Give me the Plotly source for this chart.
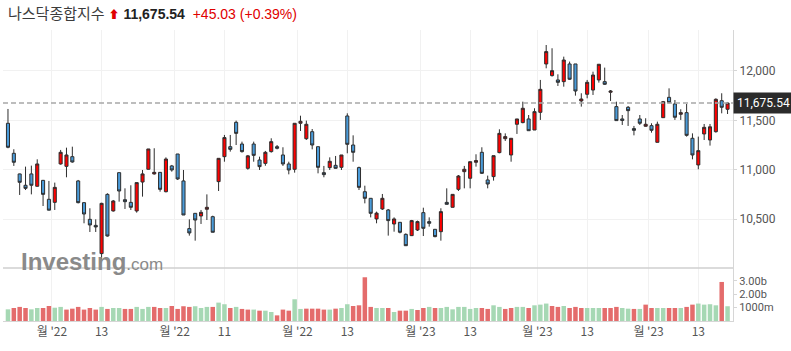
import plotly.graph_objects as go

# ---------------- data ----------------
opens = [11470, 11166, 10957, 10842, 10957, 10832, 10892, 10700, 10669, 11058,
         11034, 11132, 10886, 10666, 10497, 10436, 10150, 10750, 10582, 10970,
         10696, 10669, 10582, 10875, 11004, 10957, 10973, 10777, 11038, 11159,
         10886, 10403, 10558, 10531, 10599, 10524, 10879, 11132, 11233, 11480,
         11260, 11014, 11260, 11098, 11064, 11183, 11233, 11149, 11058, 11004,
         11470, 11314, 11385, 11233, 10970, 11021, 11044, 11024, 11544, 11250,
         11021, 10777, 10710, 10501, 10602, 10592, 10450, 10467, 10345, 10332,
         10389, 10565, 10474, 10396, 10372, 10669, 10619, 10801, 10980, 10913,
         11075, 11176, 10896, 10930, 11173, 11314, 11149, 11460, 11477, 11514,
         11402, 11581, 12071, 11953, 11909, 11892, 12071, 12071, 11696, 11764,
         11807, 11909, 11892, 11784, 11639, 11514, 11632, 11416, 11514, 11440,
         11446, 11277, 11527, 11733, 11666, 11561, 11578, 11318, 11048, 11362,
         11301, 11385, 11699, 11612]
highs = [11615, 11207, 10960, 11031, 11041, 11105, 10896, 10886, 10869, 11200,
         11223, 11233, 10896, 10670, 10609, 10497, 10665, 10761, 10693, 10970,
         10811, 10842, 10869, 10997, 11210, 11217, 10976, 11125, 11048, 11159,
         10997, 10497, 10560, 10592, 10750, 10534, 11115, 11352, 11352, 11497,
         11284, 11149, 11284, 11132, 11190, 11318, 11250, 11227, 11081, 11470,
         11547, 11497, 11412, 11233, 11038, 11125, 11139, 11149, 11571, 11348,
         11031, 10838, 10712, 10575, 10754, 10602, 10517, 10470, 10355, 10491,
         10484, 10615, 10517, 10398, 10609, 10811, 10750, 10946, 11038, 11081,
         11156, 11227, 10940, 11142, 11409, 11368, 11318, 11514, 11689, 11554,
         11622, 11909, 12263, 12230, 11966, 12145, 12095, 12071, 11774, 11909,
         11993, 12068, 12034, 11807, 11689, 11554, 11645, 11443, 11554, 11521,
         11470, 11487, 11696, 11824, 11706, 11612, 11666, 11368, 11335, 11463,
         11463, 11723, 11774, 11686]
lows = [11217, 11038, 10744, 10794, 10750, 10828, 10632, 10588, 10592, 11051,
        10923, 11071, 10659, 10457, 10369, 10369, 10075, 10322, 10575, 10676,
        10602, 10592, 10565, 10727, 11000, 10950, 10777, 10770, 10980, 10896,
        10541, 10332, 10281, 10450, 10490, 10366, 10784, 11081, 11183, 11250,
        11173, 11000, 11081, 10997, 11040, 11173, 11206, 11038, 10953, 10970,
        11392, 11301, 11206, 10963, 10923, 10997, 11011, 10997, 11166, 11081,
        10794, 10659, 10517, 10457, 10592, 10332, 10372, 10355, 10227, 10328,
        10379, 10328, 10423, 10315, 10281, 10649, 10619, 10784, 10811, 10811,
        11031, 10957, 10811, 10889, 11166, 11291, 11081, 11362, 11470, 11395,
        11402, 11504, 12027, 11943, 11848, 11841, 11910, 11750, 11639, 11723,
        11757, 11882, 11858, 11696, 11497, 11453, 11443, 11348, 11453, 11436,
        11375, 11277, 11527, 11672, 11504, 11504, 11335, 11105, 11004, 11301,
        11244, 11375, 11571, 11564]
closes = [11227, 11075, 10872, 10811, 10842, 11058, 10750, 10590, 10821, 11176,
          11149, 11078, 10666, 10551, 10440, 10420, 10659, 10328, 10683, 10784,
          10676, 10619, 10869, 10957, 11210, 10973, 10801, 11108, 10997, 10906,
          10541, 10359, 10490, 10568, 10619, 10366, 11115, 11325, 11206, 11368,
          11183, 11140, 11145, 11031, 11176, 11284, 11217, 11058, 10997, 11470,
          11490, 11460, 11250, 11024, 10950, 11085, 11014, 11149, 11257, 11176,
          10821, 10710, 10558, 10560, 10710, 10484, 10501, 10366, 10230, 10484,
          10474, 10406, 10457, 10322, 10575, 10649, 10750, 10936, 11004, 11081,
          11092, 10963, 10855, 11142, 11368, 11335, 11318, 11514, 11622, 11395,
          11588, 11814, 12196, 12003, 11885, 12111, 11916, 11797, 11716, 11885,
          11959, 12068, 11865, 11797, 11497, 11499, 11598, 11399, 11470, 11460,
          11399, 11460, 11689, 11679, 11531, 11578, 11348, 11149, 11193, 11429,
          11434, 11713, 11632, 11675.54]
volumes_b = [0.87, 0.97, 1.05, 0.97, 0.87, 0.97, 0.97, 1.12, 0.99, 1.05,
             0.85, 0.92, 1.05, 0.85, 0.97, 0.85, 1.05, 0.90, 0.97, 0.97,
             0.90, 0.90, 1.05, 0.90, 1.05, 1.05, 0.97, 0.97, 1.12, 0.90,
             1.10, 1.05, 1.10, 0.97, 1.05, 1.05, 1.37, 1.25, 0.97, 1.05,
             0.90, 0.85, 0.85, 0.77, 0.77, 0.67, 0.42, 0.85, 0.77, 1.62,
             0.90, 0.92, 0.92, 0.92, 0.85, 0.85, 0.92, 0.97, 1.25, 1.12,
             1.17, 3.26, 1.05, 0.97, 0.97, 0.97, 0.67, 0.77, 0.77, 0.90,
             0.82, 0.97, 1.05, 0.97, 0.97, 1.05, 0.87, 1.05, 1.05, 0.90,
             0.97, 0.97, 0.90, 1.17, 1.05, 0.90, 0.97, 1.05, 1.05, 0.97,
             1.17, 1.22, 1.30, 1.12, 1.05, 1.12, 0.97, 1.05, 0.97, 0.97,
             0.97, 0.97, 0.97, 0.97, 1.05, 0.97, 0.92, 0.90, 0.90, 1.22,
             0.97, 0.97, 0.97, 0.97, 0.97, 0.97, 1.05, 1.22, 1.30, 1.22,
             1.25, 1.17, 2.91, 1.10]

x_tick_pos = [7.5, 16, 28.5, 37, 49.5, 58, 70.5, 79, 90.5, 99, 109.5, 118]
x_tick_text = ["월 '22", "13", "월 '22", "11", "월 '22", "13",
               "월 '23", "13", "월 '23", "13", "월 '23", "13"]
price_ticks = [10500, 11000, 11500, 12000]
vol_ticks = [1, 2, 3]
vol_tick_text = ["1000m", "2.00b", "3.00b"]

last_price = 11675.54
title_name = "나스닥종합지수"
title_price = "11,675.54"
title_change = "+45.03 (+0.39%)"

# ---------------- figure ----------------
idx = list(range(len(closes)))
vol_colors = []
for i, c in enumerate(closes):
    up = i == 0 or c >= closes[i - 1]
    vol_colors.append("#a6d8b4" if up else "#e46c6c")

fig = go.Figure()
fig.add_trace(go.Candlestick(
    x=idx, open=opens, high=highs, low=lows, close=closes,
    increasing=dict(fillcolor="#ff0000", line=dict(color="#2e2e2e", width=1)),
    decreasing=dict(fillcolor="#4a9bd9", line=dict(color="#2e2e2e", width=1)),
    whiskerwidth=0, xaxis="x", yaxis="y", hoverinfo="skip", showlegend=False,
))
fig.add_trace(go.Bar(
    x=idx, y=volumes_b, marker=dict(color=vol_colors, line=dict(width=0)),
    xaxis="x", yaxis="y2", hoverinfo="skip", showlegend=False,
))

PANEL = 0.1821
font_ui = "Roboto, Noto Sans CJK KR, sans-serif"
fig.update_layout(
    width=791, height=351,
    margin=dict(l=3, r=58, t=30, b=30),
    paper_bgcolor="white", plot_bgcolor="white",
    bargap=0.23, boxgap=0.25,
    font=dict(family=font_ui, size=11, color="#555"),
    xaxis=dict(
        domain=[0, 1], range=[-0.85, 123.93], anchor="y2",
        tickmode="array", tickvals=x_tick_pos, ticktext=x_tick_text,
        tickfont=dict(size=12, color="#555", family="Noto Sans CJK KR, sans-serif"),
        showgrid=True, gridcolor="#f1f1f1", gridwidth=1,
        showline=True, linecolor="#d6d6d6", linewidth=1,
        ticks="", zeroline=False,
        rangeslider=dict(visible=False),
    ),
    yaxis=dict(
        domain=[PANEL, 1], range=[10004, 12415], side="right",
        tickmode="array", tickvals=price_ticks, tickformat=",",
        tickfont=dict(size=12, color="#555"),
        showgrid=True, gridcolor="#f1f1f1", zeroline=False,
        showline=True, linecolor="#d6d6d6", ticks="outside", ticklen=3,
        tickcolor="#d6d6d6", anchor="x",
    ),
    yaxis2=dict(
        domain=[0, PANEL], range=[0, 3.95], side="right",
        tickmode="array", tickvals=vol_ticks, ticktext=vol_tick_text,
        tickfont=dict(size=11, color="#555"),
        showgrid=False, zeroline=False,
        showline=True, linecolor="#d6d6d6", ticks="outside", ticklen=3,
        tickcolor="#d6d6d6", anchor="x",
    ),
)

# separator between price and volume panels
fig.add_shape(type="line", xref="paper", yref="paper", x0=0, x1=1,
              y0=PANEL, y1=PANEL, line=dict(color="#cfcfcf", width=1.5))
# current price dashed line
fig.add_shape(type="line", xref="paper", yref="y", x0=0, x1=1,
              y0=last_price, y1=last_price,
              line=dict(color="#a8a8a8", width=1.5, dash="5px,3px"))
# current price label
fig.add_annotation(xref="paper", yref="y", x=1, y=last_price, xanchor="left",
                   yanchor="middle", text=f"{last_price:,.2f}", showarrow=False,
                   bgcolor="#2b2b2b", borderpad=3,
                   font=dict(color="white", size=12, family=font_ui))
# watermark logo
fig.add_annotation(xref="paper", yref="paper", x=0.022, y=0.205, xanchor="left",
                   yanchor="middle", showarrow=False,
                   text="<b>Investing</b><span style='font-size:17px'>.com</span>",
                   font=dict(color="#8a8a8a", size=24,
                             family="Liberation Sans, Arial, sans-serif"))
# title
fig.add_annotation(
    xref="paper", yref="paper", x=0.004, y=1.058, xanchor="left",
    yanchor="middle", showarrow=False,
    text=(f"<span style='color:#3c3c3c;font-size:15px'>{title_name}</span> "
          f"<span style='color:#e00000;font-size:11px'>⬆</span> "
          f"<b><span style='color:#222'>{title_price}</span></b>  "
          f"<span style='color:#e00000'>{title_change}</span>"),
    font=dict(size=14, family="Liberation Sans, Noto Sans CJK KR, sans-serif"),
)

fig.write_html("out.html")
